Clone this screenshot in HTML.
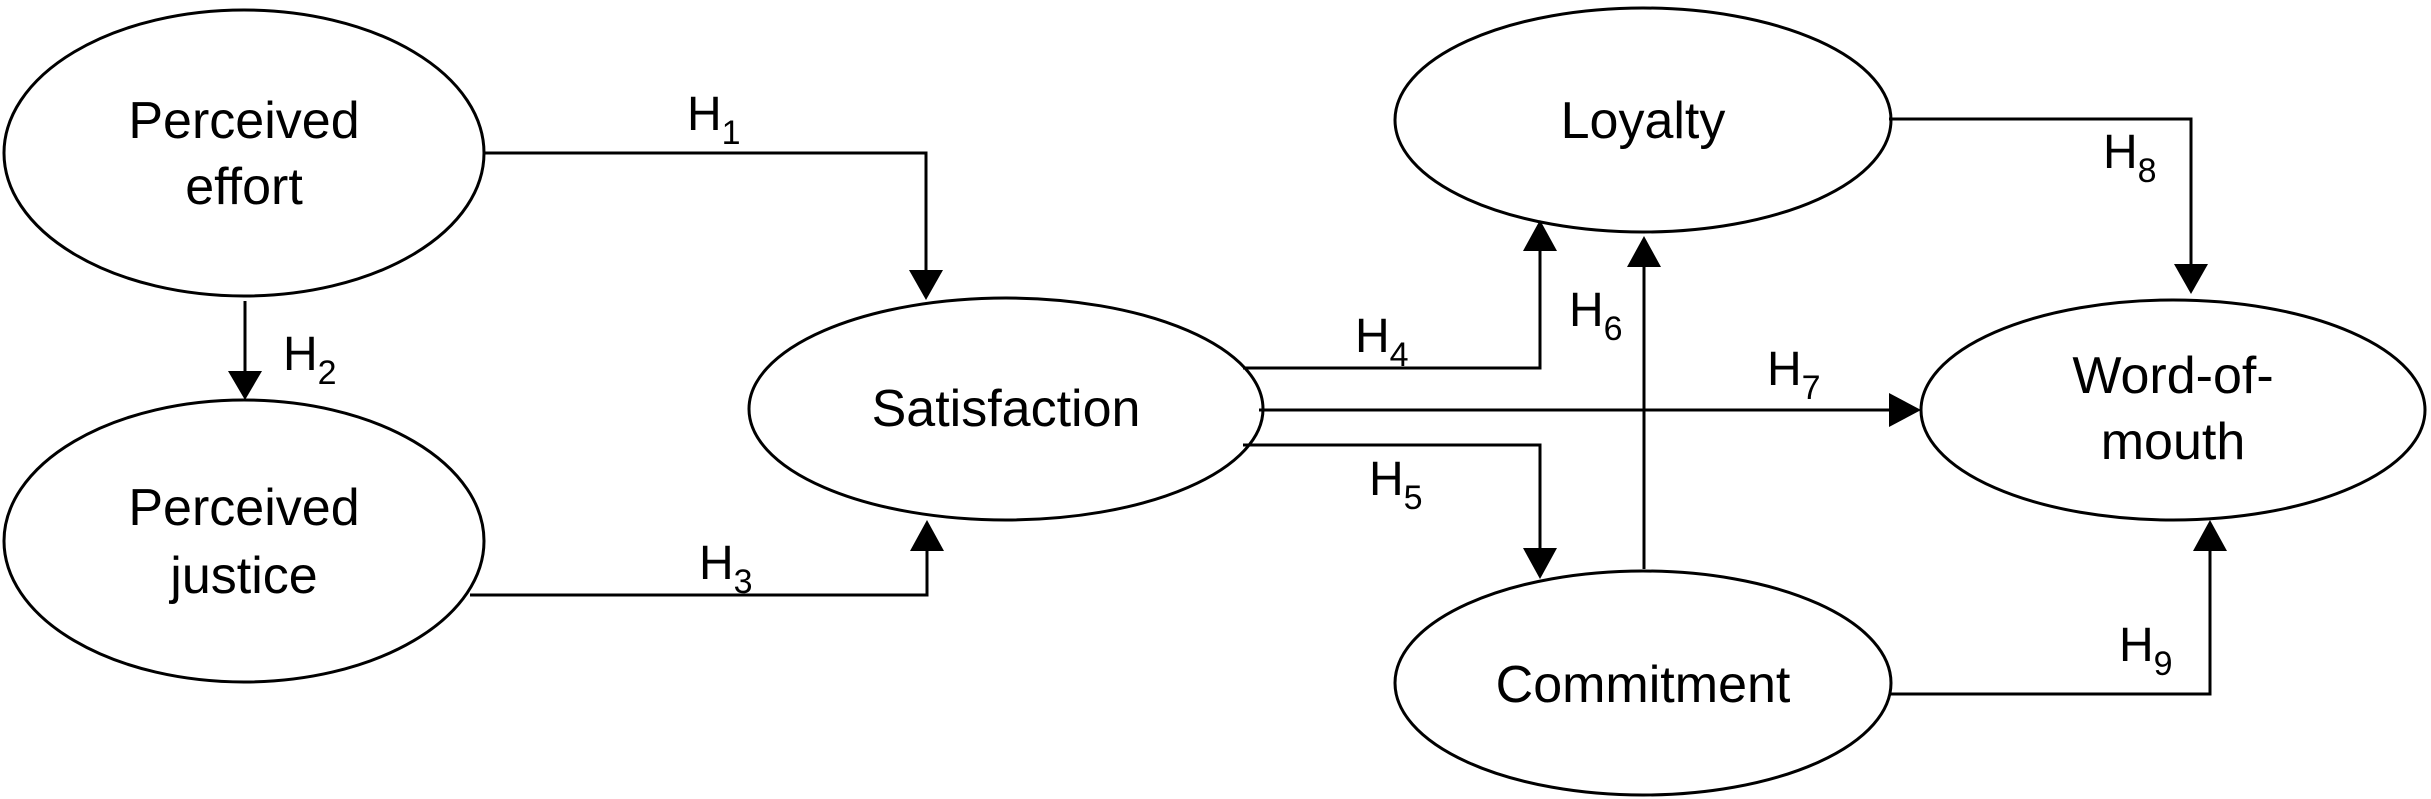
<!DOCTYPE html>
<html><head><meta charset="utf-8"><style>
html,body{margin:0;padding:0;background:#fff;}
svg{display:block;}
text{font-family:"Liberation Sans",sans-serif;fill:#000;}
.n{font-size:52px;text-anchor:middle;}
.h{font-size:48px;}
.s{font-size:34px;}
</style></head><body>
<svg width="2431" height="799" viewBox="0 0 2431 799" xmlns="http://www.w3.org/2000/svg">
<g fill="none" stroke="#000" stroke-width="3">
<ellipse cx="244" cy="153" rx="240" ry="143"/>
<ellipse cx="244" cy="541" rx="240" ry="141"/>
<ellipse cx="1006" cy="409" rx="257" ry="111"/>
<ellipse cx="1643" cy="120" rx="248" ry="112"/>
<ellipse cx="1643" cy="683" rx="248" ry="112"/>
<ellipse cx="2173" cy="410" rx="252" ry="110"/>
<polyline points="484,153 926,153 926,272"/>
<polyline points="245,301 245,372"/>
<polyline points="470,595 927,595 927,550"/>
<polyline points="1243,368 1540,368 1540,249"/>
<polyline points="1259,410 1890,410"/>
<polyline points="1243,445 1540,445 1540,549"/>
<polyline points="1644,569 1644,265"/>
<polyline points="1889,119 2191,119 2191,265"/>
<polyline points="1889,694 2210,694 2210,550"/>
</g>
<g fill="#000">
<polygon points="909,270 943,270 926,300"/>
<polygon points="228,371 262,371 245,400"/>
<polygon points="910,551 944,551 927,520"/>
<polygon points="1523,251 1557,251 1540,220"/>
<polygon points="1889,393 1889,427 1921,410"/>
<polygon points="1523,548 1557,548 1540,579"/>
<polygon points="1627,267 1661,267 1644,236"/>
<polygon points="2174,264 2208,264 2191,294"/>
<polygon points="2193,551 2227,551 2210,520"/>
</g>
<text class="n" x="244" y="138">Perceived</text>
<text class="n" x="244" y="204">effort</text>
<text class="n" x="244" y="525">Perceived</text>
<text class="n" x="244" y="593">justice</text>
<text class="n" x="1006" y="426">Satisfaction</text>
<text class="n" x="1643" y="138">Loyalty</text>
<text class="n" x="1643" y="702">Commitment</text>
<text class="n" x="2173" y="393">Word-of-</text>
<text class="n" x="2173" y="459">mouth</text>
<text class="h" x="687" y="130">H<tspan class="s" dy="14">1</tspan></text>
<text class="h" x="283" y="370">H<tspan class="s" dy="14">2</tspan></text>
<text class="h" x="699" y="579">H<tspan class="s" dy="14">3</tspan></text>
<text class="h" x="1355" y="352">H<tspan class="s" dy="14">4</tspan></text>
<text class="h" x="1369" y="495">H<tspan class="s" dy="14">5</tspan></text>
<text class="h" x="1569" y="326">H<tspan class="s" dy="14">6</tspan></text>
<text class="h" x="1767" y="385">H<tspan class="s" dy="14">7</tspan></text>
<text class="h" x="2103" y="168">H<tspan class="s" dy="14">8</tspan></text>
<text class="h" x="2119" y="661">H<tspan class="s" dy="14">9</tspan></text>
</svg>
</body></html>
